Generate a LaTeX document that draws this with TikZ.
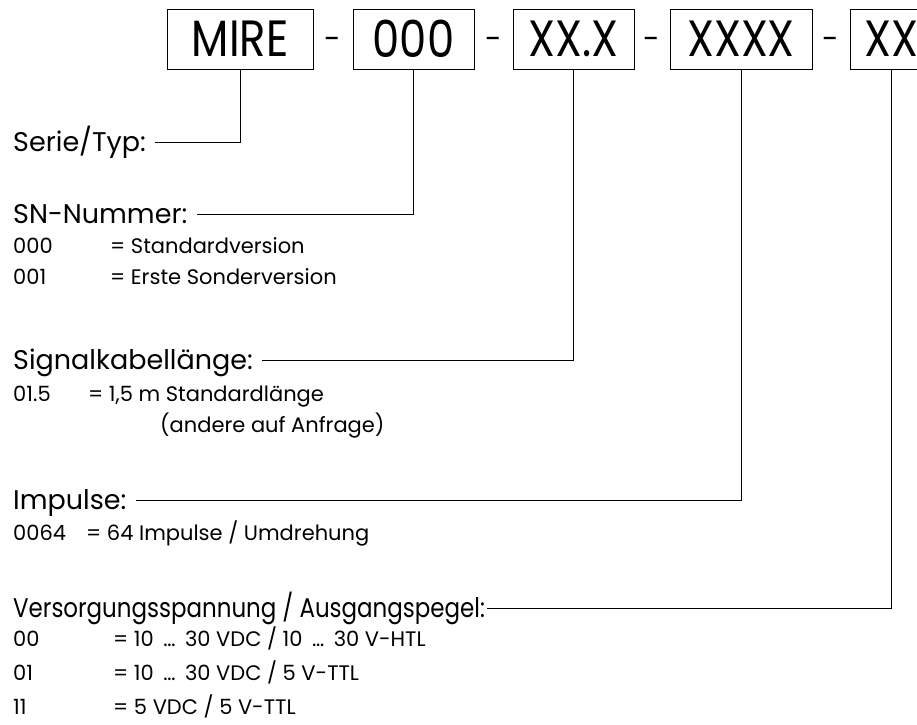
\documentclass[tikz,border=0pt]{standalone}
\usepackage{fontspec}
\setmainfont{Poppins}
\newfontfamily\boxfont[FakeStretch=0.85]{Poppins}
\newfontfamily\narrowfont[FakeStretch=0.85]{Poppins}
\newcommand{\elli}{\makebox[0.95em]{…}}
\usetikzlibrary{positioning}

\begin{document}
\begin{tikzpicture}[
x=1pt, y=-1pt,
box/.style={
draw,
line width=1pt,
minimum height=60pt,
inner sep=0pt,
font=\boxfont\fontsize{51}{51}\selectfont
},
sep/.style={
inner sep=0pt,
yshift=-4pt,
font=\fontsize{30}{30}\selectfont
},
title/.style={
anchor=west,
inner sep=0pt,
text height=19pt,
text depth=0pt,
font=\fontsize{27}{27}\selectfont
},
entry/.style={
anchor=base west,
inner sep=0pt,
font=\fontsize{21}{21}\selectfont
},
wire/.style={line width=1pt}
]
\useasboundingbox (0,0) rectangle (917,724);

% code boxes
\node[box, minimum width=146pt] (mire) at (240,39) {MIRE};
\node[box, minimum width=121pt, right=39pt of mire] (snbox) {000};
\node[box, minimum width=121pt, right=38pt of snbox] (kabelbox) {XX.X};
\node[box, minimum width=142pt, right=35pt of kabelbox] (impbox) {XXXX};
\node[box, minimum width=82pt, right=37pt of impbox] (volbox) {XX};

\path (mire.east) -- node[sep] (d1) {-} (snbox.west);
\path (snbox.east) -- node[sep] (d2) {-} (kabelbox.west);
\path (kabelbox.east) -- node[sep] (d3) {-} (impbox.west);
\path (impbox.east) -- node[sep] (d4) {-} (volbox.west);

% headings
\node[title] (serie) at (13,142) {Serie/Typ:};
\node[title] (snnr) at (13,214) {SN-Nummer:};
\node[title] (kabel) at (13,360) {Signalkabellänge:};
\node[title] (impulse) at (13,500) {Impulse:};
\node[title] (versorgung) at (13,608) {\narrowfont Versorgungsspannung / Ausgangspegel:};

% entries
\node[entry] (sn0) at (13,253) {\makebox[97pt][l]{000}= Standardversion};
\node[entry] (sn1) at (13,284) {\makebox[97pt][l]{001}= Erste Sonderversion};
\node[entry] (kab0) at (13,401) {\makebox[75pt][l]{01.5}= 1,5 m Standardlänge};
\node[entry] (kab1) at (160,432) {(andere auf Anfrage)};
\node[entry] (imp0) at (13,540) {\makebox[73pt][l]{0064}= 64 Impulse / Umdrehung};
\node[entry] (vol0) at (13,646) {\makebox[100pt][l]{00}= 10 \elli{} 30 VDC / 10 \elli{} 30 V-HTL};
\node[entry] (vol1) at (13,680) {\makebox[100pt][l]{01}= 10 \elli{} 30 VDC / 5 V-TTL};
\node[entry] (vol2) at (13,714) {\makebox[100pt][l]{11}= 5 VDC / 5 V-TTL};

% connectors
\draw[wire] (mire.south) |- ([xshift=9pt]serie.east);
\draw[wire] (snbox.south) |- ([xshift=9pt]snnr.east);
\draw[wire] (kabelbox.south) |- ([xshift=9pt]kabel.east);
\draw[wire] (impbox.south) |- ([xshift=9pt]impulse.east);
\draw[wire] (volbox.south) |- ([xshift=2pt]versorgung.east);

\end{tikzpicture}
\end{document}
